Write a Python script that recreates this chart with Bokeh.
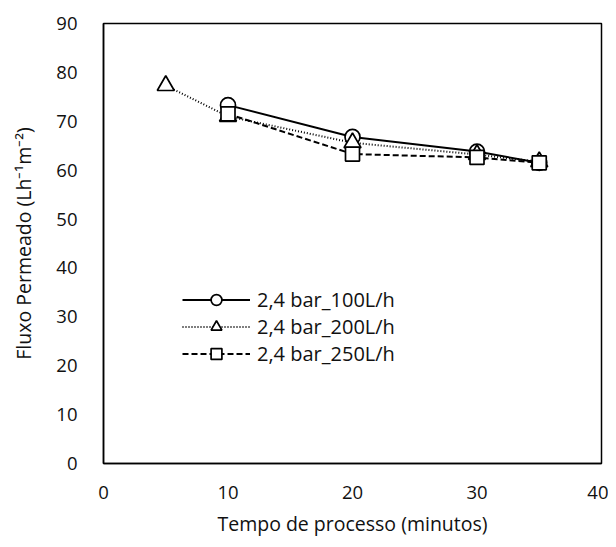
from bokeh.plotting import figure
from bokeh.models import Legend, LegendItem, Range1d, FixedTicker
from bokeh.embed import file_html
from bokeh.resources import INLINE

x_100 = [10, 20, 30, 35]
y_100 = [73.3, 66.8, 63.8, 61.5]
x_200 = [5, 10, 20, 30, 35]
y_200 = [77.3, 71.0, 65.6, 63.2, 61.7]
x_250 = [10, 20, 30, 35]
y_250 = [71.5, 63.3, 62.6, 61.5]
labels = ["2,4 bar_100L/h", "2,4 bar_200L/h", "2,4 bar_250L/h"]

FONT = "Open Sans"

p = figure(width=608, height=539, output_backend="svg", toolbar_location=None,
           x_range=Range1d(0, 40), y_range=Range1d(0, 90),
           min_border_left=103, min_border_top=23, min_border_right=7, min_border_bottom=75)
p.xgrid.visible = False
p.ygrid.visible = False
p.outline_line_color = "black"
p.outline_line_width = 1.5
p.background_fill_color = "white"
p.border_fill_color = "white"

for ax in (p.xaxis[0], p.yaxis[0]):
    ax.axis_line_color = "black"
    ax.axis_line_width = 1.5
    ax.major_tick_line_color = None
    ax.minor_tick_line_color = None
    ax.major_label_text_font = FONT
    ax.major_label_text_font_size = "18.5px"
    ax.major_label_text_color = "#111111"
    ax.axis_label_text_font = FONT
    ax.axis_label_text_font_size = "19.5px"
    ax.axis_label_text_font_style = "normal"
    ax.axis_label_text_color = "#111111"

p.xaxis.ticker = FixedTicker(ticks=[0, 10, 20, 30, 40])
p.yaxis.ticker = FixedTicker(ticks=list(range(0, 91, 10)))
p.xaxis.axis_label = "Tempo de processo (minutos)"
p.yaxis.axis_label = "Fluxo Permeado (Lh⁻¹m⁻²)"
p.xaxis.major_label_standoff = 16
p.yaxis.major_label_standoff = 20
p.xaxis.axis_label_standoff = 8
p.yaxis.axis_label_standoff = 16

l1 = p.line(x_100, y_100, line_color="black", line_width=2)
m1 = p.scatter(x_100, y_100, marker="circle", size=15, fill_color="white", line_color="black", line_width=1.7)
l2 = p.line(x_200, y_200, line_color="black", line_width=2, line_dash="1 2")
m2 = p.scatter(x_200, y_200, marker="triangle", size=17, fill_color="white", line_color="black", line_width=1.7)
l3 = p.line(x_250, y_250, line_color="black", line_width=2, line_dash="6 3")
m3 = p.scatter(x_250, y_250, marker="square", size=14, fill_color="white", line_color="black", line_width=1.7)

legend = Legend(items=[LegendItem(label=labels[0], renderers=[l1, m1]),
                       LegendItem(label=labels[1], renderers=[l2, m2]),
                       LegendItem(label=labels[2], renderers=[l3, m3])],
                location=(79, 96), padding=0, margin=0, spacing=0,
                glyph_width=68, glyph_height=27, label_height=27, label_standoff=7,
                label_text_font=FONT, label_text_font_size="20px", label_text_color="#111111",
                border_line_color=None, background_fill_alpha=0)
p.add_layout(legend)

open("out.html", "w").write(file_html(p, INLINE))
